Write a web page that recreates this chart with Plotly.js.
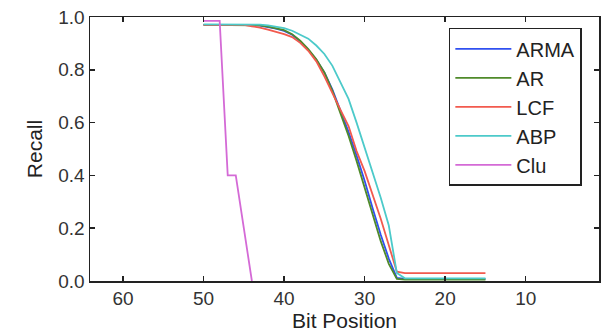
<!DOCTYPE html>
<html>
<head>
<meta charset="utf-8">
<script src="https://cdn.plot.ly/plotly-3.0.1.min.js"></script>
<style>html,body{margin:0;padding:0;background:#fff}#chart{width:604px;height:335px}</style>
</head>
<body>
<div id="chart"></div>
<script>
// Bit positions for the main series (50 down to 15)
const bits = [50,49,48,47,46,45,44,43,42,41,40,39,38,37,36,35,34,33,32,31,30,29,28,27,26,25,24,23,22,21,20,19,18,17,16,15];
const armaRecall = [0.97,0.97,0.97,0.97,0.97,0.97,0.97,0.967,0.962,0.956,0.947,0.933,0.908,0.876,0.838,0.79,0.725,0.645,0.565,0.475,0.38,0.275,0.175,0.085,0.012,0.008,0.008,0.008,0.008,0.008,0.008,0.008,0.008,0.008,0.008,0.008];
const arRecall   = [0.97,0.97,0.97,0.97,0.97,0.97,0.97,0.968,0.964,0.958,0.95,0.935,0.91,0.878,0.84,0.79,0.72,0.635,0.55,0.455,0.355,0.252,0.151,0.065,0.008,0.005,0.005,0.005,0.005,0.005,0.005,0.005,0.005,0.005,0.005,0.005];
const lcfRecall  = [0.97,0.97,0.97,0.97,0.97,0.97,0.965,0.96,0.952,0.944,0.935,0.924,0.902,0.872,0.832,0.775,0.71,0.648,0.587,0.492,0.416,0.329,0.236,0.135,0.035,0.03,0.03,0.03,0.03,0.03,0.03,0.03,0.03,0.03,0.03,0.03];
const abpRecall  = [0.972,0.972,0.972,0.972,0.972,0.972,0.972,0.971,0.968,0.964,0.958,0.948,0.934,0.918,0.892,0.86,0.815,0.755,0.69,0.6,0.505,0.41,0.315,0.21,0.03,0.01,0.01,0.01,0.01,0.01,0.01,0.01,0.01,0.01,0.01,0.01];
// Clu series
const cluBits = [50,49,48,47,46,45,44];
const cluRecall = [0.985,0.985,0.985,0.4,0.4,0.2,0.0];

const seriesNames = ['ARMA','AR','LCF','ABP','Clu'];
const seriesColors = ['#3050f0','#4f8a2a','#f25a4e','#4ccaca','#d46ad6'];
const seriesX = [bits,bits,bits,bits,cluBits];
const seriesY = [armaRecall,arRecall,lcfRecall,abpRecall,cluRecall];

const xTicks = [60,50,40,30,20,10];
const yTicks = [0,0.2,0.4,0.6,0.8,1.0];

const FONT = 'Liberation Sans, Arial, sans-serif';

const traces = seriesNames.map((n,i)=>({
  x: seriesX[i], y: seriesY[i], name: n, type:'scatter', mode:'lines',
  line:{color: seriesColors[i], width:1.8}
}));

const axisCommon = {
  showline:true, linecolor:'#222', linewidth:1.5, mirror:'ticks',
  ticks:'inside', ticklen:5, tickwidth:1.5, tickcolor:'#222',
  showgrid:false, zeroline:false,
  tickfont:{family:FONT, size:19, color:'#333'}
};

const layout = {
  width:604, height:335,
  margin:{l:90, r:5, t:17, b:54},
  paper_bgcolor:'#fff', plot_bgcolor:'#fff',
  showlegend:true,
  xaxis: Object.assign({}, axisCommon, {
    range:[64.1, 0.9], tickvals:xTicks, ticktext:xTicks.map(String),
    title:{text:'Bit Position', font:{family:FONT, size:21, color:'#222'}, standoff:2}
  }),
  yaxis: Object.assign({}, axisCommon, {
    range:[0,1.0], tickvals:yTicks, ticktext:yTicks.map(v=>v.toFixed(1)),
    title:{text:'Recall', font:{family:FONT, size:21, color:'#222'}, standoff:10}
  }),
  legend:{
    x:0.705, y:0.959, xanchor:'left', yanchor:'top',
    bordercolor:'#222', borderwidth:1.5, bgcolor:'#fff',
    font:{family:FONT, size:20, color:'#222'},
    itemwidth:56
  }
};

Plotly.newPlot('chart', traces, layout, {displayModeBar:false, staticPlot:true});
</script>
</body>
</html>
